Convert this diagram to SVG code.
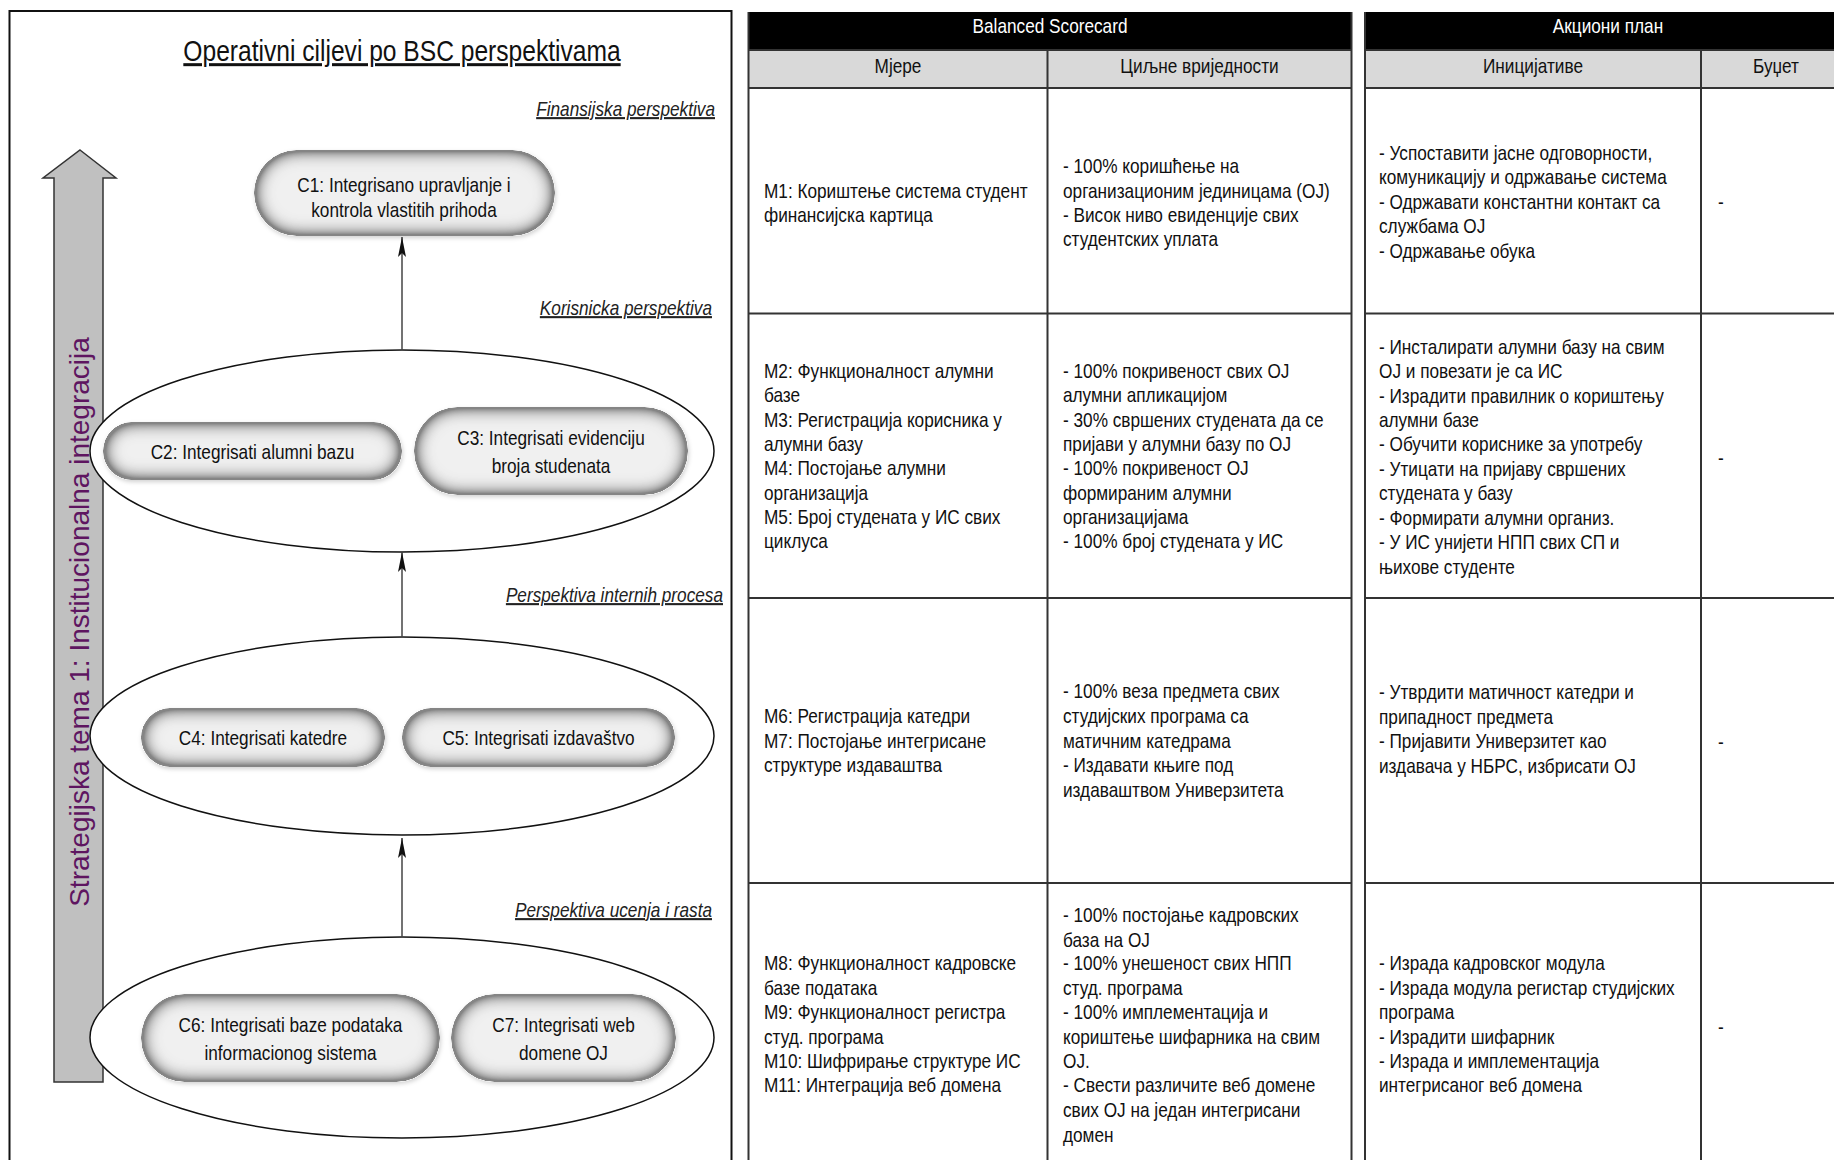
<svg xmlns="http://www.w3.org/2000/svg" width="1834" height="1160" viewBox="0 0 1834 1160">
<style>
.n{font-family:"Liberation Sans",Arial,sans-serif;font-size:21px;fill:#111}
.c{text-anchor:middle}
.title{font-size:30px;text-decoration:underline}
.lab{font-style:italic;text-anchor:end;text-decoration:underline;fill:#222}
.hd{fill:#fff;text-anchor:middle}
.pill{fill:#f0f0f0;filter:url(#soft)}
.ell{fill:#fff;stroke:#111;stroke-width:1.5}
.con{stroke:#444;stroke-width:1.5;fill:none;marker-end:url(#ah)}
.grid{stroke:#333;stroke-width:2;fill:none}
.theme{font-family:"Liberation Sans",Arial,sans-serif;font-size:28px;fill:#5e1560;text-anchor:middle}
</style>
<defs>
<filter id="soft" x="-10%" y="-30%" width="125%" height="170%">
<feGaussianBlur in="SourceAlpha" stdDeviation="9" result="blur"/>
<feComposite in="SourceAlpha" in2="blur" operator="arithmetic" k2="2.3" k3="-2.3" result="edge"/>
<feFlood flood-color="#858585"/>
<feComposite in2="edge" operator="in" result="inner"/>
<feGaussianBlur in="SourceAlpha" stdDeviation="2" result="b2"/>
<feOffset in="b2" dx="1" dy="2" result="off"/>
<feFlood flood-color="#000" flood-opacity="0.18"/>
<feComposite in2="off" operator="in" result="drop"/>
<feMerge><feMergeNode in="drop"/><feMergeNode in="SourceGraphic"/><feMergeNode in="inner"/></feMerge>
</filter>
<marker id="ah" viewBox="0 0 20 8" refX="20" refY="4" markerWidth="20" markerHeight="8" markerUnits="userSpaceOnUse" orient="auto">
<path d="M0,0 L20,4 L0,8 L4,4 z" fill="#111"/>
</marker>
</defs>
<rect width="1834" height="1160" fill="#fff"/>

<g id="left-panel">
<rect x="9.5" y="11" width="722" height="1160" fill="none" stroke="#111" stroke-width="2"/>
<g transform="scale(0.82 1)">
<text class="n c title" x="490.24" y="61">Operativni ciljevi po BSC perspektivama</text>
<text class="n lab" x="871.95" y="116">Finansijska perspektiva</text>
<text class="n lab" x="868.29" y="315">Korisnicka perspektiva</text>
<text class="n lab" x="881.71" y="602">Perspektiva internih procesa</text>
<text class="n lab" x="868.29" y="917">Perspektiva ucenja i rasta</text>
</g>
</g>

<g id="theme-arrow">
<polygon points="80,150 116,178 103,178 103,1082 54,1082 54,178 43,178" fill="#c0c0c0" stroke="#333" stroke-width="1.5"/>
<text class="theme" transform="translate(89,622) rotate(-90)">Strategijska tema 1: Institucionalna integracija</text>
</g>

<g id="ellipse-korisnicka"><ellipse class="ell" cx="402" cy="451" rx="312" ry="101"/></g>
<g id="ellipse-interni"><ellipse class="ell" cx="402" cy="736" rx="312" ry="99"/></g>
<g id="ellipse-ucenje"><ellipse class="ell" cx="402" cy="1037.5" rx="312" ry="100.5"/></g>

<g id="connectors">
<line class="con" x1="402" y1="350" x2="402" y2="237"/>
<line class="con" x1="402" y1="637" x2="402" y2="552"/>
<line class="con" x1="402" y1="937" x2="402" y2="838"/>
</g>

<g id="C1"><rect class="pill" x="254" y="150" width="301" height="86" rx="43"/>
<g transform="scale(0.82 1)"><text class="n c" x="492.68" y="192">C1: Integrisano upravljanje i</text>
<text class="n c" x="492.68" y="217">kontrola vlastitih prihoda</text></g></g>

<g id="C2"><rect class="pill" x="103" y="422" width="299" height="58" rx="29"/>
<g transform="scale(0.82 1)"><text class="n c" x="307.93" y="459">C2: Integrisati alumni bazu</text></g></g>

<g id="C3"><rect class="pill" x="414" y="407" width="274" height="88" rx="44"/>
<g transform="scale(0.82 1)"><text class="n c" x="671.95" y="445">C3: Integrisati evidenciju</text>
<text class="n c" x="671.95" y="473">broja studenata</text></g></g>

<g id="C4"><rect class="pill" x="141" y="708" width="244" height="59" rx="29.5"/>
<g transform="scale(0.82 1)"><text class="n c" x="320.73" y="745">C4: Integrisati katedre</text></g></g>

<g id="C5"><rect class="pill" x="402" y="708" width="273" height="59" rx="29.5"/>
<g transform="scale(0.82 1)"><text class="n c" x="656.71" y="745">C5: Integrisati izdavaštvo</text></g></g>

<g id="C6"><rect class="pill" x="141" y="994" width="299" height="88" rx="44"/>
<g transform="scale(0.82 1)"><text class="n c" x="354.27" y="1032">C6: Integrisati baze podataka</text>
<text class="n c" x="354.27" y="1060">informacionog sistema</text></g></g>

<g id="C7"><rect class="pill" x="451" y="994" width="225" height="88" rx="44"/>
<g transform="scale(0.82 1)"><text class="n c" x="687.20" y="1032">C7: Integrisati web</text>
<text class="n c" x="687.20" y="1060">domene OJ</text></g></g>

<g id="bsc-table">
<rect x="748.5" y="12" width="603" height="38" fill="#000"/>
<rect x="748.5" y="50" width="603" height="38" fill="#d9d9d9"/>
<path class="grid" d="M748.5,12 V1160 M1351.5,12 V1160 M1047.5,50 V1160 M748.5,50 H1351.5 M748.5,88 H1351.5 M748.5,313.5 H1351.5 M748.5,598 H1351.5 M748.5,883 H1351.5"/>
<g transform="scale(0.82 1)">
<text class="n hd" x="1280.49" y="33">Balanced Scorecard</text>
<text class="n c" x="1095.12" y="73">Мјере</text>
<text class="n c" x="1462.80" y="73">Циљне вриједности</text>

<text class="n" x="931.71" y="198">M1: Кориштење система студент</text>
<text class="n" x="931.71" y="222">финансијска картица</text>
<text class="n" x="1296.34" y="173">- 100% коришћење на</text>
<text class="n" x="1296.34" y="198">организационим јединицама (ОЈ)</text>
<text class="n" x="1296.34" y="222">- Висок ниво евиденције свих</text>
<text class="n" x="1296.34" y="246">студентских уплата</text>

<text class="n" x="931.71" y="378">M2: Функционалност алумни</text>
<text class="n" x="931.71" y="402.5">базе</text>
<text class="n" x="931.71" y="427">M3: Регистрација корисника у</text>
<text class="n" x="931.71" y="451">алумни базу</text>
<text class="n" x="931.71" y="475.5">M4: Постојање алумни</text>
<text class="n" x="931.71" y="500">организација</text>
<text class="n" x="931.71" y="524">M5: Број студената у ИС свих</text>
<text class="n" x="931.71" y="548">циклуса</text>
<text class="n" x="1296.34" y="378">- 100% покривеност свих ОЈ</text>
<text class="n" x="1296.34" y="402.5">алумни апликацијом</text>
<text class="n" x="1296.34" y="427">- 30% свршених студената да се</text>
<text class="n" x="1296.34" y="451">пријави у алумни базу по ОЈ</text>
<text class="n" x="1296.34" y="475.5">- 100% покривеност ОЈ</text>
<text class="n" x="1296.34" y="500">формираним алумни</text>
<text class="n" x="1296.34" y="524">организацијама</text>
<text class="n" x="1296.34" y="548">- 100% број студената у ИС</text>

<text class="n" x="931.71" y="723.5">M6: Регистрација катедри</text>
<text class="n" x="931.71" y="748">M7: Постојање интегрисане</text>
<text class="n" x="931.71" y="772">структуре издаваштва</text>
<text class="n" x="1296.34" y="698.5">- 100% веза предмета свих</text>
<text class="n" x="1296.34" y="723.5">студијских програма са</text>
<text class="n" x="1296.34" y="748">матичним катедрама</text>
<text class="n" x="1296.34" y="772.5">- Издавати књиге под</text>
<text class="n" x="1296.34" y="797">издаваштвом Универзитета</text>

<text class="n" x="931.71" y="970">M8: Функционалност кадровске</text>
<text class="n" x="931.71" y="995">базе података</text>
<text class="n" x="931.71" y="1019">M9: Функционалност регистра</text>
<text class="n" x="931.71" y="1044">студ. програма</text>
<text class="n" x="931.71" y="1068.5">M10: Шифрирање структуре ИС</text>
<text class="n" x="931.71" y="1092">M11: Интеграција веб домена</text>
<text class="n" x="1296.34" y="922">- 100% постојање кадровских</text>
<text class="n" x="1296.34" y="947">база на ОЈ</text>
<text class="n" x="1296.34" y="970">- 100% унешеност свих НПП</text>
<text class="n" x="1296.34" y="995">студ. програма</text>
<text class="n" x="1296.34" y="1019">- 100% имплементација и</text>
<text class="n" x="1296.34" y="1044">кориштење шифарника на свим</text>
<text class="n" x="1296.34" y="1068.5">ОЈ.</text>
<text class="n" x="1296.34" y="1092">- Свести различите веб домене</text>
<text class="n" x="1296.34" y="1117">свих ОЈ на један интегрисани</text>
<text class="n" x="1296.34" y="1142">домен</text>
</g>
</g>

<g id="action-table">
<rect x="1365" y="12" width="490" height="38" fill="#000"/>
<rect x="1365" y="50" width="490" height="38" fill="#d9d9d9"/>
<path class="grid" d="M1365,12 V1160 M1701,50 V1160 M1365,50 H1834 M1365,88 H1834 M1365,313.5 H1834 M1365,598 H1834 M1365,883 H1834"/>
<g transform="scale(0.82 1)">
<text class="n hd" x="1960.98" y="33">Акциони план</text>
<text class="n c" x="1869.51" y="73">Иницијативе</text>
<text class="n c" x="2165.85" y="73">Буџет</text>

<text class="n" x="1681.71" y="160">- Успоставити јасне одговорности,</text>
<text class="n" x="1681.71" y="184.5">комуникацију и одржавање система</text>
<text class="n" x="1681.71" y="209">- Одржавати константни контакт са</text>
<text class="n" x="1681.71" y="233.5">службама ОЈ</text>
<text class="n" x="1681.71" y="258">- Одржавање обука</text>
<text class="n" x="2095.12" y="209">-</text>

<text class="n" x="1681.71" y="354">- Инсталирати алумни базу на свим</text>
<text class="n" x="1681.71" y="378.5">ОЈ и повезати је са ИС</text>
<text class="n" x="1681.71" y="403">- Израдити правилник о кориштењу</text>
<text class="n" x="1681.71" y="427">алумни базе</text>
<text class="n" x="1681.71" y="451.5">- Обучити кориснике за употребу</text>
<text class="n" x="1681.71" y="476">- Утицати на пријаву свршених</text>
<text class="n" x="1681.71" y="500.5">студената у базу</text>
<text class="n" x="1681.71" y="525">- Формирати алумни организ.</text>
<text class="n" x="1681.71" y="549">- У ИС унијети НПП свих СП и</text>
<text class="n" x="1681.71" y="574">њихове студенте</text>
<text class="n" x="2095.12" y="465">-</text>

<text class="n" x="1681.71" y="699">- Утврдити матичност катедри и</text>
<text class="n" x="1681.71" y="724">припадност предмета</text>
<text class="n" x="1681.71" y="748.5">- Пријавити Универзитет као</text>
<text class="n" x="1681.71" y="773.5">издавача у НБРС, избрисати ОЈ</text>
<text class="n" x="2095.12" y="749">-</text>

<text class="n" x="1681.71" y="970">- Израда кадровског модула</text>
<text class="n" x="1681.71" y="995">- Израда модула регистар студијских</text>
<text class="n" x="1681.71" y="1019">програма</text>
<text class="n" x="1681.71" y="1044">- Израдити шифарник</text>
<text class="n" x="1681.71" y="1068.5">- Израда и имплементација</text>
<text class="n" x="1681.71" y="1092">интегрисаног веб домена</text>
<text class="n" x="2095.12" y="1034">-</text>
</g>
</g>
</svg>
